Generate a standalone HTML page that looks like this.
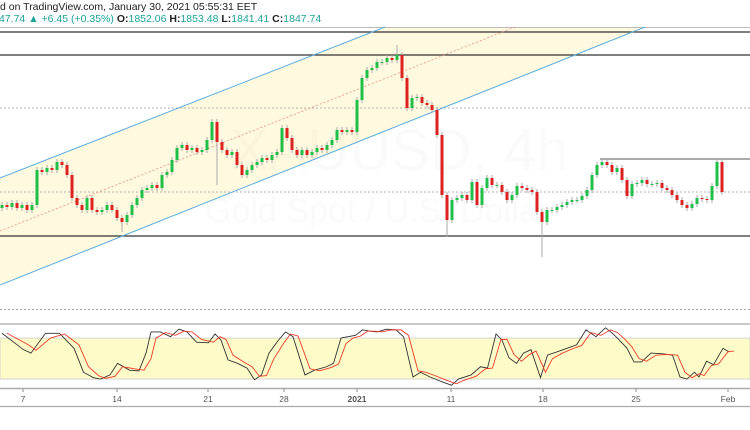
<!DOCTYPE html>
<html><head><meta charset="utf-8">
<style>
html,body{margin:0;padding:0;background:#fff;overflow:hidden;width:750px;height:430px;font-family:"Liberation Sans",sans-serif;}
#hdr1,#hdr2{position:absolute;left:0;font-size:10.5px;white-space:nowrap;color:#222;}
#hdr1{top:1px}
#hdr2{top:13px;left:-1px}
.t{color:#1aa39a}
b{font-weight:bold}
svg{position:absolute;left:0;top:0}
</style></head><body>
<div id="hdr1">d on TradingView.com, January 30, 2021 05:55:31 EET</div>
<div id="hdr2"><span class="t">47.74 ▲ +6.45 (+0.35%)</span> <b>O:</b><span class="t">1852.06</span> <b>H:</b><span class="t">1853.48</span> <b>L:</b><span class="t">1841.41</span> <b>C:</b><span class="t">1847.74</span></div>
<svg id="chart" width="750" height="430"></svg>
<script>
const closes=[1831,1829,1833,1828,1831,1826,1831,1866,1864,1868,1866,1874,1871,1861,1838,1831,1826,1838,1826,1824,1826,1831,1826,1818,1814,1821,1831,1838,1846,1848,1851,1848,1861,1864,1876,1888,1891,1886,1888,1884,1886,1896,1914,1894,1886,1881,1884,1871,1861,1866,1871,1874,1878,1876,1881,1884,1908,1898,1886,1881,1886,1881,1884,1888,1886,1891,1896,1906,1904,1906,1904,1936,1958,1966,1968,1974,1974,1978,1976,1981,1958,1928,1938,1939,1933,1931,1926,1901,1841,1816,1836,1838,1841,1836,1854,1831,1848,1858,1851,1851,1844,1836,1841,1850,1848,1846,1844,1824,1814,1826,1826,1829,1831,1834,1836,1836,1840,1846,1861,1871,1874,1871,1864,1868,1856,1840,1852,1853,1856,1852,1852,1853,1848,1846,1841,1836,1831,1828,1832,1838,1837,1836,1850,1874,1844];
const firstOpen=1828;
const spikeIdx=[24,43,79,89,108,120,143];
const spikeVal=[1804,1851,1991,1799,1779,1878,1878];
const oscIdx=[0,4.3,5.8,8.7,11.5,14.4,16.3,18.3,19.7,21.6,23.1,25.5,27.4,28.8,29.8,31.7,33.7,35.4,37,38.9,41.3,42.6,43.8,45.2,47.1,49,50.5,51.9,53.4,55.3,56.7,58.2,60.6,62.5,64.9,66.3,67.8,69.2,70.7,72.1,73.6,75,76.9,78.8,80.3,82.2,83.7,85.6,88,89.9,91.3,93.8,95.7,97.1,98.8,100,101.4,102.9,104.3,105.8,107.7,109.1,111.1,113,114.9,116.8,118.8,120.7,122.1,123.6,125,126.4,127.9,129.8,132.2,134.1,135.6,137,138.5,139.4,140.9,142.3,144.2,145.4];
const stochK=[87,63,58,87,87,65,30,22,20,26,43,33,32,58,89,89,82,93,89,74,73,86,77,48,43,36,19,26,58,77,89,82,26,33,38,43,80,82,84,92,90,89,93,92,82,23,30,23,16,11,20,26,38,36,86,77,51,43,58,63,22,55,60,65,70,92,82,95,87,76,65,45,45,58,57,55,23,20,30,23,46,41,65,60];
const stochD=[87,70,62,80,86,70,38,25,21,24,38,35,33,50,80,88,84,90,89,78,74,82,78,55,46,38,24,25,50,72,86,83,35,32,37,42,72,80,83,90,90,89,92,92,84,32,30,25,18,13,18,24,35,36,78,78,56,46,55,61,30,50,58,64,69,88,84,92,88,78,67,50,46,55,56,55,30,22,28,25,40,42,60,61];
const dateLabels=["7","14","21","28","2021","11","18","25","Feb"];
const dateIdx=[4.2,23,41.2,56.4,71,89.8,108.2,126.8,145.2];

const NS="http://www.w3.org/2000/svg";
const svg=document.getElementById('chart');
function el(tag,attrs,parent){const e=document.createElementNS(NS,tag);for(const k in attrs)e.setAttribute(k,attrs[k]);(parent||svg).appendChild(e);return e;}
const xOf=i=>2+i*5;
const yP=p=>2036-p;
const yS=v=>392.7-v*0.683;

const ch=el('polygon',{points:"0,178 385,27 645,27 0,285",fill:"#fffadf"});

const w1=el('text',{x:230,y:170,'font-size':58,fill:'rgba(0,0,0,0.018)','font-family':'Liberation Sans, sans-serif'});w1.textContent='XAUUSD, 4h';

const w2=el('text',{x:205,y:222,'font-size':34,fill:'rgba(0,0,0,0.018)','font-family':'Liberation Sans, sans-serif'});w2.textContent='Gold Spot / U.S. Dollar';

el('line',{x1:0,y1:27.5,x2:750,y2:27.5,stroke:'#bbb'});
[[32,'#333',1.3,''],[55,'#333',1.3,''],[236,'#333',1.3,''],[108,'#999',0.8,'2,2'],[192,'#999',0.8,'2,2']].forEach((h,k)=>{
 const l=el('line',{x1:0,y1:h[0],x2:750,y2:h[0],stroke:h[1],'stroke-width':h[2],'stroke-dasharray':h[3]});
 
});
const rl=el('line',{x1:600,y1:159,x2:750,y2:159,stroke:'#555','stroke-width':1});

const up=el('line',{x1:0,y1:178,x2:385,y2:27,stroke:'#5aaee0','stroke-width':1});

const lo=el('line',{x1:0,y1:285,x2:645,y2:27,stroke:'#5aaee0','stroke-width':1});

const mid=el('line',{x1:0,y1:231,x2:515,y2:27,stroke:'#f08a80','stroke-width':0.8,'stroke-dasharray':'2,2'});

const cg=el('g',{});

for(let i=0;i<closes.length;i++){
 const o=i?closes[i-1]:firstOpen,c=closes[i];
 let hi=Math.max(o,c)+3,lw=Math.min(o,c)-3;
 const s=spikeIdx.indexOf(i);
 if(s>=0){if(spikeVal[s]>Math.max(o,c))hi=spikeVal[s];else lw=spikeVal[s];}
 const x=xOf(i);const upc=c>=o;
 const wk=el('line',{x1:x,y1:yP(hi),x2:x,y2:yP(lw),stroke:'#aaa','stroke-width':1},cg);
 
 const top=yP(Math.max(o,c)),h=Math.max(1,Math.abs(c-o));
 const b=el('rect',{x:x-1.5,y:top,width:3,height:h,fill:upc?'#1fbf4a':'#dd2222'},cg);
 
}
el('line',{x1:0,y1:309.5,x2:750,y2:309.5,stroke:'#aaa','stroke-dasharray':'2,2'});
el('line',{x1:0,y1:324,x2:750,y2:324,stroke:'#aaa','stroke-width':1.2});
const band=el('rect',{x:0,y:yS(80),width:750,height:yS(20)-yS(80),fill:'#fdfcc8',stroke:'#ccc','stroke-width':0.8});

el('line',{x1:0,y1:388.5,x2:750,y2:388.5,stroke:'#aaa','stroke-width':1.5});
el('line',{x1:0,y1:406.5,x2:750,y2:406.5,stroke:'#aaa','stroke-width':1.2});
const kp=el('polyline',{points:oscIdx.map((t,i)=>xOf(t)+','+yS(stochK[i])).join(' '),fill:'none',stroke:'#333','stroke-width':0.9});

const dp=el('polyline',{points:oscIdx.map((t,i)=>xOf(t+1)+','+yS(stochD[i])).join(' '),fill:'none',stroke:'#f03a2a','stroke-width':0.9});

dateLabels.forEach((d,i)=>{
 const x=xOf(dateIdx[i]);
 el('line',{x1:x,y1:389,x2:x,y2:392,stroke:'#888'});
 const t=el('text',{x:x,y:402,'font-size':8.5,'text-anchor':'middle',fill:'#555','font-weight':d==='2021'?'bold':'normal','font-family':'Liberation Sans, sans-serif'});
 t.textContent=d;
 
});
</script>
</body></html>
